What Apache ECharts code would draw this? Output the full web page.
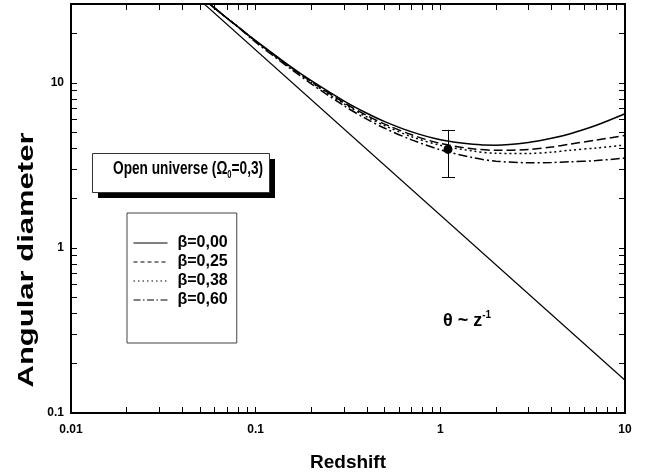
<!DOCTYPE html>
<html><head><meta charset="utf-8">
<script src="https://cdn.jsdelivr.net/npm/echarts@6/dist/echarts.min.js"></script>
<style>html,body{margin:0;padding:0;background:#fff}#c{width:647px;height:473px}</style>
</head><body><div id="c"></div>
<script>
// ---- data ----
const zValues = [0.05, 0.06, 0.07, 0.08, 0.1, 0.15, 0.2, 0.3, 0.4, 0.5, 0.7, 1, 1.5, 2, 3, 4, 5, 7, 10];
const beta000 = [33.5, 28.3, 24.6, 21.9, 18.0, 12.85, 10.3, 7.78, 6.54, 5.82, 5.04, 4.52, 4.24, 4.19, 4.35, 4.61, 4.90, 5.53, 6.49];
const beta025 = [33.5, 28.3, 24.6, 21.9, 17.9, 12.72, 10.16, 7.59, 6.34, 5.62, 4.84, 4.29, 3.98, 3.90, 3.94, 4.08, 4.25, 4.50, 4.80];
const beta038 = [33.5, 28.3, 24.6, 21.9, 17.8, 12.66, 10.05, 7.47, 6.21, 5.50, 4.71, 4.18, 3.86, 3.74, 3.73, 3.80, 3.90, 4.03, 4.20];
const beta060 = [33.5, 28.3, 24.6, 21.8, 17.6, 12.46, 9.85, 7.27, 6.02, 5.30, 4.51, 3.93, 3.52, 3.35, 3.28, 3.29, 3.32, 3.38, 3.50];
const euclidZ = [0.05, 10];
const euclidTheta = [31.6, 0.158];
const obsPoint = [[1.1, 3.95, 2.67, 5.19]]; // z, theta, low, high
const seriesNames = ['β=0,00', 'β=0,25', 'β=0,38', 'β=0,60'];
const xRange = [0.01, 10];
const yRange = [0.1, 30];
const xMajorTicks = [0.01, 0.1, 1, 10];
const xTickLabels = ['0.01', '0.1', '1', '10'];
const xMinorTicks = [0.02,0.03,0.04,0.05,0.06,0.07,0.08,0.09,0.2,0.3,0.4,0.5,0.6,0.7,0.8,0.9,2,3,4,5,6,7,8,9];
const yMajorTicks = [0.1, 1, 10];
const yTickLabels = ['0.1', '1', '10'];
const yMinorTicks = [0.2,0.3,0.4,0.5,0.6,0.7,0.8,0.9,2,3,4,5,6,7,8,9,20];
const xTitle = 'Redshift';
const yTitle = 'Angular diameter';

// ---- chart ----
const FF = '"Liberation Sans", Arial, sans-serif';
const chart = echarts.init(document.getElementById('c'), null, {renderer: 'canvas'});
const crisp = v => Math.round(v) + 0.5;

function labelFor(majors, labels) {
  return function (v) {
    const i = majors.findIndex(t => Math.abs(Math.log10(t) - Math.log10(v)) < 1e-6);
    return i >= 0 ? labels[i] : '';
  };
}
function mkAxis(kind, pos, withLabel) {
  const isX = kind === 'x';
  const rng = isX ? xRange : yRange;
  const allTicks = (isX ? xMajorTicks.concat(xMinorTicks) : yMajorTicks.concat(yMinorTicks)).sort((a, b) => a - b);
  const ax = {
    type: 'log', logBase: 10, min: rng[0], max: rng[1],
    position: pos,
    axisLine: {show: true, onZero: false, lineStyle: {color: '#000', width: 2}},
    axisTick: {show: true, inside: true, length: 6, customValues: allTicks, lineStyle: {color: '#000', width: 1}},
    axisLabel: {show: false},
    splitLine: {show: false}
  };
  if (withLabel) {
    ax.axisLabel = {
      show: true, customValues: isX ? xMajorTicks : yMajorTicks, margin: isX ? 11 : 7,
      formatter: isX ? labelFor(xMajorTicks, xTickLabels) : labelFor(yMajorTicks, yTickLabels),
      color: '#000', fontFamily: FF, fontWeight: 'bold', fontSize: 12
    };
  }
  return ax;
}

const xAxes = [mkAxis('x', 'bottom', true), mkAxis('x', 'top', false)];
xAxes[0].name = xTitle;
xAxes[0].nameLocation = 'middle';
xAxes[0].nameGap = 40;
xAxes[0].nameTextStyle = {color: '#000', fontFamily: FF, fontWeight: 'bold', fontSize: 19};
const yAxes = [mkAxis('y', 'left', true), mkAxis('y', 'right', false)];

const dashStyles = ['solid', [9, 4], [2, 3], [9, 3, 2, 3]];
const legendDash = ['solid', [4, 3], [1.5, 3], [7, 2.5, 1.5, 2.5]];
const curves = [beta000, beta025, beta038, beta060];

function seg(x1, y1, x2, y2) {
  return {type: 'line', shape: {x1: x1, y1: y1, x2: x2, y2: y2}, style: {stroke: '#000', lineWidth: 1}};
}
const series = curves.map((vals, k) => ({
  name: seriesNames[k], type: 'line', xAxisIndex: 0, yAxisIndex: 0,
  data: zValues.map((z, i) => [z, vals[i]]),
  symbol: 'none', smooth: 0.3, clip: true,
  lineStyle: {color: '#000', width: 1.5, type: dashStyles[k]},
  itemStyle: {color: '#000'}
}));
series.push({
  name: 'euclid', type: 'line', xAxisIndex: 0, yAxisIndex: 0,
  data: euclidZ.map((z, i) => [z, euclidTheta[i]]),
  symbol: 'none', clip: true,
  lineStyle: {color: '#000', width: 1.2, type: 'solid'}
});
series.push({
  name: 'obs', type: 'custom', xAxisIndex: 0, yAxisIndex: 0,
  data: obsPoint, encode: {x: 0, y: 1},
  renderItem: function (params, api) {
    const x = api.value(0), y = api.value(1), lo = api.value(2), hi = api.value(3);
    const pt = api.coord([x, y]), top = api.coord([x, hi]), bot = api.coord([x, lo]);
    const cap = 6.5, cx = crisp(top[0]);
    return {type: 'group', children: [
      seg(cx, top[1], cx, bot[1]),
      seg(cx - cap, crisp(top[1]), cx + cap, crisp(top[1])),
      seg(cx - cap, crisp(bot[1]), cx + cap, crisp(bot[1])),
      {type: 'circle', shape: {cx: pt[0], cy: pt[1], r: 4.5}, style: {fill: '#000'}}
    ]};
  }
});

const option = {
  backgroundColor: '#fff',
  animation: false,
  grid: {left: 71, right: 22, top: 4, bottom: 60, containLabel: false, outerBoundsMode: 'none'},
  xAxis: xAxes,
  yAxis: yAxes,
  legend: {
    orient: 'vertical', left: 127, top: 213,
    padding: [22, 9, 35, 6],
    borderColor: '#444', borderWidth: 1, backgroundColor: '#fff',
    itemWidth: 34, itemHeight: 16, itemGap: 3, selectedMode: false,
    textStyle: {color: '#000', fontFamily: FF, fontWeight: 'bold', fontSize: 16, padding: [0, 0, 0, 5]},
    data: seriesNames.map((n, k) => ({
      name: n,
      lineStyle: {color: '#000', width: 1, type: legendDash[k]},
      itemStyle: {opacity: 0}
    }))
  },
  graphic: [
    {type: 'rect', shape: {x: 98, y: 159, width: 177, height: 39}, style: {fill: '#000'}, z: 100},
    {type: 'rect', shape: {x: 92.5, y: 153.5, width: 177, height: 39}, style: {fill: '#fff', stroke: '#333', lineWidth: 1}, z: 101},
    {type: 'text', x: 113, y: 169, scaleX: 0.76, z: 102,
      style: {
        text: '{m|Open universe (Ω}{s|0}{m|=0,3)}',
        align: 'left', verticalAlign: 'middle', fill: '#000',
        rich: {
          m: {fontFamily: FF, fontWeight: 'bold', fontSize: 18, lineHeight: 22, fill: '#000'},
          s: {fontFamily: FF, fontWeight: 'bold', fontSize: 10, lineHeight: 10, verticalAlign: 'bottom', fill: '#000'}
        }
      }},
    {type: 'text', x: 443, y: 321, z: 102,
      style: {
        text: '{m|θ ~ z}{p|-1}',
        align: 'left', verticalAlign: 'middle', fill: '#000',
        rich: {
          m: {fontFamily: FF, fontWeight: 'bold', fontSize: 18, lineHeight: 22, fill: '#000'},
          p: {fontFamily: FF, fontWeight: 'bold', fontSize: 10, lineHeight: 10, verticalAlign: 'top', fill: '#000'}
        }
      }},
    {type: 'text', x: 27, y: 260, rotation: Math.PI / 2, scaleY: 0.72, z: 102,
      style: {text: yTitle, font: 'bold 31px ' + FF, fill: '#000', align: 'center', verticalAlign: 'middle'}}
  ],
  series: series
};
chart.setOption(option);
</script>
</body></html>
